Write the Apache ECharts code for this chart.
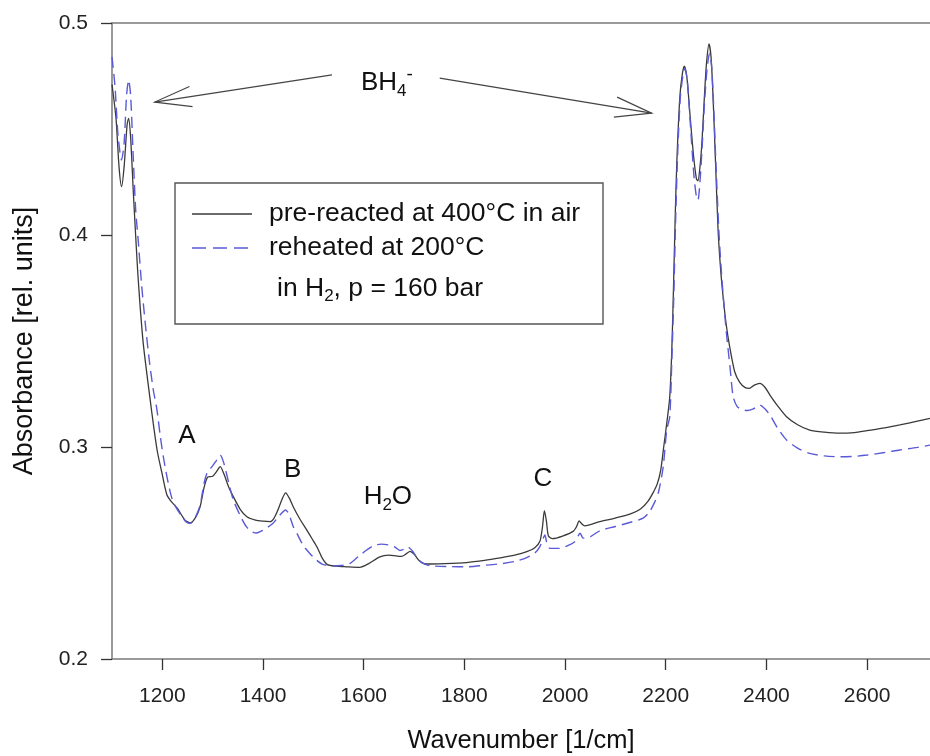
<!DOCTYPE html>
<html>
<head>
<meta charset="utf-8">
<script src="https://cdn.jsdelivr.net/npm/echarts@6/dist/echarts.min.js"></script>
<style>
  html, body { margin: 0; padding: 0; background: #fff; }
  #spectrum { width: 930px; height: 756px; }
</style>
</head>
<body>
<div id="spectrum"></div>
<script>
// tick values
const xTicks = [1200, 1400, 1600, 1800, 2000, 2200, 2400, 2600];
const yRange = [0.2, 0.5];

// [wavenumber, absorbance]
const preReacted = [
  [1100, 0.471], [1108, 0.455], [1114, 0.432], [1119, 0.4228], [1124, 0.432],
  [1130, 0.452], [1133, 0.455], [1137, 0.446], [1142, 0.422], [1146, 0.404],
  [1151, 0.383], [1156, 0.366], [1162, 0.349], [1169, 0.335], [1176, 0.322],
  [1182, 0.311], [1190, 0.298], [1199, 0.288], [1209, 0.2775], [1218, 0.2742],
  [1230, 0.271], [1245, 0.2655], [1256, 0.2642], [1266, 0.2668], [1275, 0.2718],
  [1283, 0.281], [1290, 0.2858], [1300, 0.2862], [1308, 0.2885], [1315, 0.2907],
  [1322, 0.2875], [1332, 0.281], [1341, 0.2766], [1355, 0.2705], [1368, 0.2671],
  [1385, 0.2655], [1400, 0.265], [1414, 0.2648], [1422, 0.2665], [1430, 0.2705],
  [1438, 0.2755], [1445, 0.2784], [1452, 0.276], [1460, 0.2718], [1472, 0.2665],
  [1487, 0.2608], [1498, 0.2565], [1508, 0.2525], [1518, 0.2475], [1528, 0.2445],
  [1545, 0.2438], [1565, 0.2435], [1592, 0.2432], [1610, 0.245], [1632, 0.2482],
  [1650, 0.249], [1665, 0.2486], [1675, 0.2484], [1685, 0.2497], [1692, 0.2508],
  [1700, 0.2495], [1711, 0.2462], [1725, 0.2448], [1760, 0.245], [1804, 0.2455],
  [1840, 0.2465], [1871, 0.2477], [1900, 0.249], [1924, 0.2506], [1940, 0.2525],
  [1950, 0.2555], [1955, 0.262], [1959, 0.27], [1963, 0.265], [1967, 0.258],
  [1975, 0.2568], [1995, 0.258], [2016, 0.2602], [2023, 0.2625], [2028, 0.2652],
  [2033, 0.2638], [2039, 0.2628], [2069, 0.2648], [2100, 0.2665], [2130, 0.2685],
  [2150, 0.2708], [2165, 0.2745], [2175, 0.2785], [2183, 0.2825], [2190, 0.289],
  [2196, 0.3], [2203, 0.313], [2208, 0.3237], [2212, 0.345], [2215, 0.371],
  [2219, 0.41], [2222, 0.434], [2228, 0.465], [2233, 0.476], [2237, 0.4797],
  [2242, 0.4745], [2248, 0.4574], [2255, 0.438], [2261, 0.4265], [2264, 0.4256],
  [2268, 0.432], [2272, 0.444], [2277, 0.466], [2281, 0.481], [2286, 0.4901],
  [2290, 0.484], [2294, 0.4652], [2299, 0.434], [2304, 0.4024], [2309, 0.384],
  [2314, 0.3709], [2320, 0.358], [2327, 0.3473], [2337, 0.3355], [2347, 0.3305],
  [2358, 0.328], [2366, 0.3277], [2376, 0.3292], [2387, 0.33], [2397, 0.3282],
  [2407, 0.3245], [2422, 0.3195], [2440, 0.3143], [2462, 0.3105], [2486, 0.308],
  [2515, 0.307], [2546, 0.3065], [2575, 0.3068], [2600, 0.3077], [2635, 0.309],
  [2665, 0.3104], [2700, 0.3122], [2725, 0.3135]
];

const reheated = [
  [1100, 0.484], [1106, 0.47], [1112, 0.447], [1119, 0.4354], [1124, 0.443],
  [1129, 0.466], [1133, 0.4731], [1137, 0.466], [1142, 0.438], [1147, 0.412],
  [1152, 0.3976], [1159, 0.376], [1166, 0.3585], [1174, 0.341], [1182, 0.327],
  [1189, 0.318], [1196, 0.305], [1202, 0.2954], [1210, 0.285], [1218, 0.2766],
  [1226, 0.272], [1238, 0.2675], [1248, 0.2645], [1256, 0.264], [1266, 0.267],
  [1275, 0.2725], [1283, 0.283], [1290, 0.2885], [1298, 0.2905], [1307, 0.2935],
  [1315, 0.2962], [1322, 0.2925], [1332, 0.283], [1341, 0.275], [1355, 0.2675],
  [1367, 0.2624], [1378, 0.26], [1387, 0.2594], [1398, 0.2605], [1407, 0.2618],
  [1420, 0.264], [1432, 0.2675], [1445, 0.2703], [1452, 0.268], [1460, 0.2625],
  [1467, 0.2594], [1480, 0.2535], [1493, 0.2498], [1506, 0.2467], [1520, 0.2445],
  [1540, 0.244], [1560, 0.2442], [1573, 0.2451], [1590, 0.2485], [1606, 0.2514],
  [1620, 0.2535], [1635, 0.2542], [1650, 0.2538], [1662, 0.2528], [1672, 0.2512],
  [1680, 0.2518], [1688, 0.2528], [1696, 0.2512], [1705, 0.2482], [1715, 0.2455],
  [1732, 0.244], [1770, 0.2436], [1804, 0.2435], [1840, 0.2442], [1871, 0.2449],
  [1900, 0.246], [1924, 0.2478], [1940, 0.25], [1950, 0.253], [1956, 0.2565],
  [1960, 0.2585], [1964, 0.2545], [1970, 0.2522], [1990, 0.2522], [2010, 0.254],
  [2020, 0.2555], [2030, 0.2593], [2036, 0.257], [2049, 0.2575], [2069, 0.2605],
  [2100, 0.2625], [2130, 0.2645], [2155, 0.2664], [2168, 0.2695], [2178, 0.274],
  [2186, 0.279], [2195, 0.2907], [2202, 0.308], [2208, 0.3143], [2212, 0.34],
  [2216, 0.371], [2220, 0.41], [2224, 0.44], [2229, 0.465], [2234, 0.475],
  [2238, 0.4786], [2243, 0.4725], [2249, 0.452], [2256, 0.428], [2261, 0.418],
  [2264, 0.4165], [2268, 0.425], [2272, 0.44], [2277, 0.462], [2282, 0.478],
  [2287, 0.4857], [2291, 0.48], [2295, 0.462], [2300, 0.432], [2306, 0.4],
  [2312, 0.378], [2320, 0.3552], [2328, 0.337], [2334, 0.3237], [2342, 0.319],
  [2350, 0.3178], [2362, 0.3172], [2374, 0.318], [2387, 0.3198], [2397, 0.318],
  [2407, 0.3151], [2422, 0.309], [2440, 0.3033], [2462, 0.2995], [2486, 0.297],
  [2515, 0.2958], [2546, 0.2954], [2575, 0.2956], [2600, 0.2962], [2635, 0.2974],
  [2665, 0.2986], [2700, 0.2998], [2725, 0.3009]
];

const seriesNames = ["pre-reacted at 400°C in air", "reheated at 200°C"];
const legendExtra = "in H{sub|2}, p = 160 bar";

// peak labels, placed in data coordinates
const peakLabels = [
  { text: "A", at: [1249, 0.3052] },
  { text: "B", at: [1459, 0.289] },
  { text: "H{sub|2}O", at: [1648, 0.2765] },
  { text: "C", at: [1956, 0.2848] },
  { text: "BH{sub|4}{sup|-}", at: [1646, 0.472] }
];
// BH4- arrows: [tail, tip]
const arrows = [
  [[1537, 0.4755], [1185, 0.4627]],
  [[1751, 0.474], [2172, 0.4575]]
];

const FONT = "Liberation Sans, Arial, sans-serif";
const AXIS_GRAY = "#7a7a7a";

const chart = echarts.init(document.getElementById("spectrum"));

let option = {
  animation: false,
  backgroundColor: "#fff",
  grid: { left: 112, right: 0, top: 23, bottom: 97, outerBoundsMode: "none" },
  xAxis: [
    {
      type: "value",
      min: 1100,
      max: 2725,
      name: "Wavenumber [1/cm]",
      nameLocation: "middle",
      nameGap: 69,
      nameTextStyle: { fontFamily: FONT, fontSize: 25.5, color: "#111" },
      axisLine: { lineStyle: { color: AXIS_GRAY, width: 1.5 } },
      axisTick: { length: 11, lineStyle: { color: "#333", width: 1.3 }, customValues: xTicks },
      axisLabel: {
        customValues: xTicks,
        margin: 27,
        fontFamily: FONT,
        fontSize: 21,
        color: "#222",
        formatter: v => String(v)
      },
      splitLine: { show: false }
    },
    {
      type: "value",
      position: "top",
      min: 1100,
      max: 2725,
      axisLine: { show: true, lineStyle: { color: AXIS_GRAY, width: 1.5 } },
      axisTick: { show: false },
      axisLabel: { show: false },
      splitLine: { show: false }
    }
  ],
  yAxis: {
    type: "value",
    min: yRange[0],
    max: yRange[1],
    interval: 0.1,
    name: "Absorbance [rel. units]",
    nameLocation: "middle",
    nameGap: 74,
    nameTextStyle: { fontFamily: FONT, fontSize: 27, color: "#111" },
    axisLine: { show: true, lineStyle: { color: AXIS_GRAY, width: 1.5 } },
    axisTick: { show: true, length: 11, lineStyle: { color: "#333", width: 1.3 } },
    axisLabel: {
      margin: 24,
      fontFamily: FONT,
      fontSize: 21,
      color: "#222",
      formatter: v => v.toFixed(1)
    },
    splitLine: { show: false }
  },
  series: [
    {
      name: seriesNames[0],
      type: "line",
      data: preReacted,
      showSymbol: false,
      smooth: 0.25,
      lineStyle: { color: "#3a3a3a", width: 1.3 },
      z: 2
    },
    {
      name: seriesNames[1],
      type: "line",
      data: reheated,
      showSymbol: false,
      smooth: 0.25,
      lineStyle: { color: "#5a5ad8", width: 1.4, type: [11, 6] },
      z: 3
    }
  ]
};
chart.setOption(option);

// annotations and legend box
function arrowShapes(tail, tip) {
  const a = Math.atan2(tail[1] - tip[1], tail[0] - tip[0]);
  const len = 38, half = 0.27;
  const b1 = [tip[0] + len * Math.cos(a + half), tip[1] + len * Math.sin(a + half)];
  const b2 = [tip[0] + len * Math.cos(a - half), tip[1] + len * Math.sin(a - half)];
  const st = { stroke: "#444", lineWidth: 1.2, fill: null };
  return [
    { type: "polyline", shape: { points: [tail, tip] }, style: st },
    { type: "polyline", shape: { points: [b1, tip, b2] }, style: st }
  ];
}

const richText = {
  n: { fontFamily: FONT, fontSize: 26, lineHeight: 34, fill: "#111" },
  sub: { fontFamily: FONT, fontSize: 17, lineHeight: 17, verticalAlign: "bottom", fill: "#111" },
  sup: { fontFamily: FONT, fontSize: 19, lineHeight: 19, verticalAlign: "top", fill: "#111" }
};

let graphics = [];
peakLabels.forEach(p => {
  const pos = chart.convertToPixel({ xAxisIndex: 0, yAxisIndex: 0 }, p.at);
  graphics.push({
    type: "text",
    x: pos[0],
    y: pos[1],
    style: {
      text: "{n|" + p.text.replace(/\{(sub|sup)\|([^}]*)\}/g, "}{$1|$2}{n|") + "}",
      rich: richText,
      align: "center",
      verticalAlign: "middle"
    }
  });
});
arrows.forEach(a => {
  const tail = chart.convertToPixel({ xAxisIndex: 0, yAxisIndex: 0 }, a[0]);
  const tip = chart.convertToPixel({ xAxisIndex: 0, yAxisIndex: 0 }, a[1]);
  graphics = graphics.concat(arrowShapes(tail, tip));
});

// legend
const legendRich = {
  n: { fontFamily: FONT, fontSize: 26.5, lineHeight: 32, fill: "#111" },
  sub: { fontFamily: FONT, fontSize: 17, lineHeight: 17, verticalAlign: "bottom", fill: "#111" }
};
graphics.push(
  { type: "rect", shape: { x: 175, y: 183, width: 428, height: 141 }, style: { fill: "#fff", stroke: "#555", lineWidth: 1.4 }, z: 10 },
  { type: "line", shape: { x1: 192, y1: 214, x2: 252, y2: 214 }, style: { stroke: "#3a3a3a", lineWidth: 1.3 }, z: 11 },
  { type: "line", shape: { x1: 192, y1: 248, x2: 252, y2: 248 }, style: { stroke: "#5a5ad8", lineWidth: 1.4, lineDash: [14, 7] }, z: 11 },
  { type: "text", x: 269, y: 214, style: { text: "{n|" + seriesNames[0] + "}", rich: legendRich, verticalAlign: "middle" }, z: 11 },
  { type: "text", x: 269, y: 248, style: { text: "{n|" + seriesNames[1] + "}", rich: legendRich, verticalAlign: "middle" }, z: 11 },
  { type: "text", x: 277, y: 289, style: { text: "{n|" + legendExtra.replace(/\{sub\|([^}]*)\}/g, "}{sub|$1}{n|") + "}", rich: legendRich, verticalAlign: "middle" }, z: 11 }
);

chart.setOption({ graphic: graphics });
</script>
</body>
</html>
